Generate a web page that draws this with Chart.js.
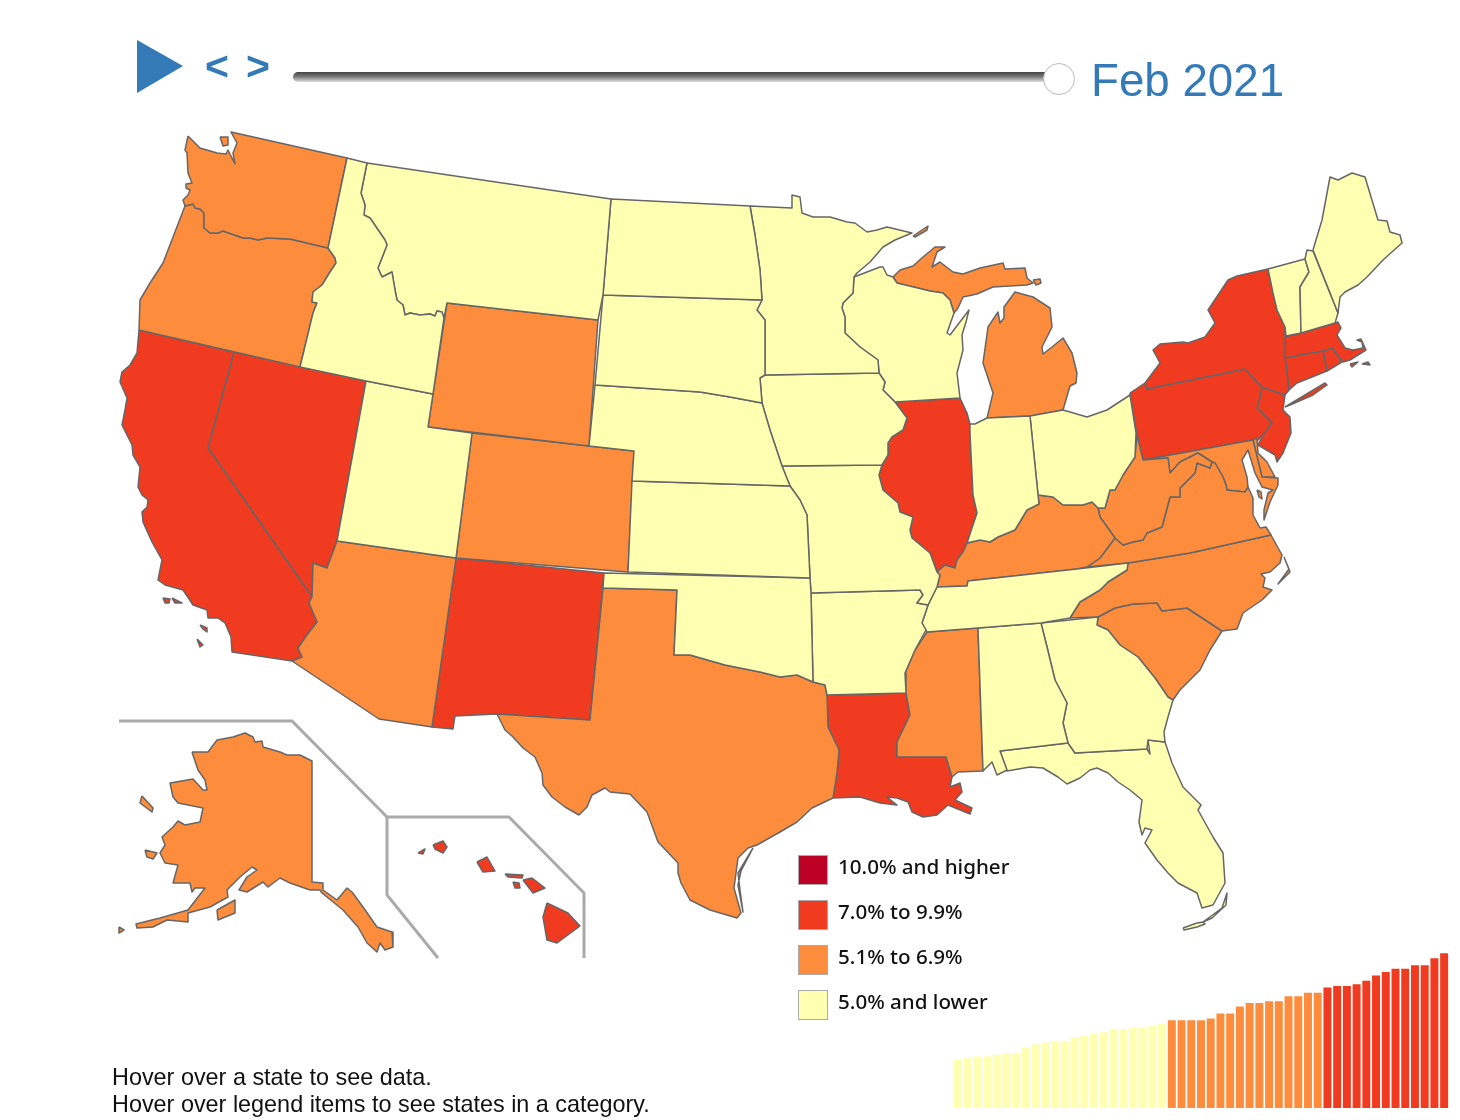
<!DOCTYPE html>
<html>
<head>
<meta charset="utf-8">
<title>Unemployment by state, Feb 2021</title>
<script src="https://cdn.jsdelivr.net/npm/chart.js@4/dist/chart.umd.min.js"></script>
<style>
    html, body { margin: 0; padding: 0; background: #fff; }
    #page { position: relative; width: 1460px; height: 1120px; overflow: hidden; }
    #mapChart { position: absolute; left: 0; top: 0; }
    #barBox { position: absolute; left: 953px; top: 936px; width: 496px; height: 172px; }
    #play { position: absolute; left: 137px; top: 40px; width: 46px; height: 53px; background: #337ab7; clip-path: polygon(0 0, 100% 49%, 0 100%); }
    .arrow { position: absolute; top: 41px; color: #337ab7; font: bold 41px "Liberation Sans", sans-serif; line-height: 50px; }
    #track { position: absolute; left: 293px; top: 72px; width: 760px; height: 10px; border-radius: 5px; background: linear-gradient(#444, #777 45%, #ddd); }
    #knob { position: absolute; left: 1043px; top: 63px; width: 30px; height: 30px; border-radius: 50%; background: #fff; border: 1px solid #bbb; }
    #date { position: absolute; left: 1091px; top: 51px; color: #337ab7; font: 45.7px "Liberation Sans", sans-serif; line-height: 60px; white-space: nowrap; }
    .swatch { position: absolute; left: 798px; width: 28px; height: 28px; border: 1.5px solid #aaa; }
    .legendText { position: absolute; left: 838px; color: #111; font: 500 20.6px "Noto Sans", sans-serif; line-height: 30px; white-space: nowrap; }
    #hint { position: absolute; left: 112px; top: 1064px; color: #111; font: 23.4px/27px "Liberation Sans", sans-serif; white-space: nowrap; }
</style>
</head>
<body>
<div id="page">
    <canvas id="mapChart" width="1460" height="1120"></canvas>
    <div id="play"></div>
    <div class="arrow" style="left:205px">&lt;</div>
    <div class="arrow" style="left:246px">&gt;</div>
    <div id="track"></div>
    <div id="knob"></div>
    <div id="date"></div>
    <div id="legend"></div>
    <div id="hint"></div>
    <div id="barBox"><canvas id="barChart"></canvas></div>
</div>
<script>
const currentMonth = "Feb 2021";
const hintLines = ["Hover over a state to see data.", "Hover over legend items to see states in a category."];

const legendLabels = ["10.0% and higher", "7.0% to 9.9%", "5.1% to 6.9%", "5.0% and lower"];
const legendColors = ["#bd0026", "#f03b20", "#fd8d3c", "#ffffb2"];

// states in each legend bin
const redStates = ["CA", "NV", "NM", "LA", "IL", "NY", "PA", "NJ", "CT", "MA", "RI", "HI"];
const orangeStates = ["WA", "OR", "WY", "CO", "AZ", "TX", "AK", "MI", "MS", "KY", "WV", "VA", "NC", "SC", "MD", "DE"];
const yellowStates = ["ID", "MT", "ND", "SD", "NE", "KS", "OK", "MN", "IA", "MO", "AR", "WI", "IN", "OH", "TN", "AL", "GA", "FL", "UT", "ME", "NH", "VT"];

// sorted state rates, bottom right strip (%)
const sortedRates = [2.8, 2.9, 3.0, 3.0, 3.1, 3.2, 3.2, 3.5, 3.7, 3.8, 3.9, 3.9, 4.1, 4.2, 4.3, 4.4, 4.6, 4.6, 4.7, 4.7, 4.8, 4.9,
    5.1, 5.1, 5.1, 5.1, 5.2, 5.5, 5.5, 5.9, 6.1, 6.1, 6.2, 6.2, 6.5, 6.5, 6.7, 6.7,
    7.0, 7.1, 7.1, 7.2, 7.4, 7.7, 7.9, 8.1, 8.1, 8.3, 8.3, 8.7, 9.0];

// state outlines in map units
const WA = [[188,136],[193,141],[200,148],[217,153],[226,154],[228,150],[235,164],[233,153],[237,143],[231,132],[347,158],[328,248],[290,239],[267,238],[258,240],[250,238],[243,238],[223,231],[218,233],[210,233],[204,228],[204,213],[200,209],[195,208],[193,204],[185,206],[183,200],[188,195],[190,190],[186,188],[186,184],[192,183],[188,173],[187,153],[185,150]];
const WA2 = [[220,137],[228,137],[228,145],[223,146]];
const OR = [[185,206],[193,204],[195,208],[200,209],[204,213],[204,228],[210,233],[218,233],[223,231],[243,238],[250,238],[258,240],[267,238],[290,239],[328,248],[335,258],[336,263],[330,272],[322,285],[313,292],[312,302],[317,303],[313,313],[300,367],[139,330],[140,300],[150,283],[163,263]];
const CA = [[139,330],[234,352],[208,448],[312,597],[309,603],[317,622],[307,635],[298,648],[302,657],[292,661],[232,652],[231,637],[225,623],[218,618],[208,618],[207,610],[193,605],[183,590],[165,585],[158,580],[162,560],[152,542],[143,522],[142,512],[147,507],[148,500],[142,495],[138,487],[140,467],[133,455],[132,445],[122,425],[125,410],[127,398],[120,382],[122,372],[130,365],[137,353]];
const CA2 = [[163,598],[170,599],[169,603],[165,603]];
const CA3 = [[172,598],[182,603],[175,603]];
const CA4 = [[200,625],[207,628],[207,632],[203,629]];
const CA5 = [[197,639],[203,645],[200,647]];
const NV = [[234,352],[366,381],[337,541],[327,568],[313,563],[312,597],[208,448]];
const ID = [[347,158],[367,163],[361,193],[365,205],[364,215],[370,218],[385,240],[387,245],[378,268],[382,277],[392,272],[395,290],[397,300],[403,305],[405,315],[410,313],[420,315],[430,314],[435,316],[437,311],[442,312],[444,318],[433,394],[366,381],[300,367],[313,313],[317,303],[312,302],[313,292],[322,285],[330,272],[336,263],[335,258],[328,248]];
const MT = [[367,163],[611,199],[603,295],[598,320],[447,303],[444,318],[442,312],[437,311],[435,316],[430,314],[420,315],[410,313],[405,315],[403,305],[397,300],[395,290],[392,272],[382,277],[378,268],[387,245],[385,240],[370,218],[364,215],[365,205],[361,193]];
const WY = [[447,303],[598,320],[589,446],[428,427]];
const UT = [[366,381],[433,394],[428,427],[472,433],[456,558],[337,541]];
const CO = [[472,433],[589,446],[634,451],[628,572],[456,558]];
const AZ = [[337,541],[456,558],[432,727],[379,719],[292,661],[302,657],[298,648],[307,635],[317,622],[309,603],[312,597],[313,563],[327,568]];
const NM = [[456,558],[604,573],[590,720],[497,714],[455,716],[453,729],[432,727]];
const ND = [[611,199],[750,206],[755,235],[760,270],[762,300],[603,295]];
const SD = [[603,295],[762,300],[757,310],[765,320],[765,375],[760,378],[762,403],[730,397],[700,392],[595,385]];
const NE = [[595,385],[700,392],[730,397],[762,403],[770,430],[782,466],[790,486],[632,481],[634,451],[589,446]];
const KS = [[632,481],[790,486],[800,500],[807,515],[810,578],[628,572]];
const OK = [[604,573],[810,578],[811,593],[813,682],[797,675],[780,677],[760,672],[725,665],[690,655],[674,655],[677,590],[603,588]];
const TX = [[603,588],[677,590],[674,655],[690,655],[725,665],[760,672],[780,677],[797,675],[813,682],[825,685],[827,695],[828,727],[839,750],[837,773],[833,798],[812,808],[797,822],[780,832],[757,845],[748,848],[738,858],[734,888],[741,913],[737,918],[710,910],[690,900],[681,883],[678,873],[678,863],[658,842],[647,812],[630,794],[610,792],[605,788],[592,795],[587,807],[579,815],[565,807],[552,797],[543,785],[542,773],[535,757],[523,748],[513,737],[505,730],[497,714],[590,720]];
const TX2 = [[753,848],[741,871],[738,885],[743,912],[740,890],[738,873]];
const MN = [[750,206],[792,208],[792,195],[800,197],[802,213],[813,217],[830,217],[847,222],[855,223],[867,232],[877,230],[887,227],[912,233],[895,240],[883,247],[870,262],[857,273],[854,277],[853,293],[843,303],[842,308],[845,317],[845,333],[860,347],[878,360],[879,373],[765,375],[765,320],[757,310],[762,300],[760,270],[755,235]];
const IA = [[765,375],[879,373],[885,382],[883,390],[895,402],[907,418],[903,430],[892,437],[888,443],[888,455],[882,465],[782,466],[770,430],[762,403],[760,378]];
const MO = [[782,466],[882,465],[879,475],[883,490],[898,503],[900,512],[913,517],[910,530],[912,538],[930,553],[937,572],[940,575],[937,587],[928,605],[917,603],[923,595],[920,590],[811,593],[810,578],[807,515],[800,500],[790,486]];
const AR = [[811,593],[920,590],[923,595],[917,603],[928,605],[922,623],[926,630],[915,650],[905,673],[906,693],[827,695],[825,685],[813,682]];
const LA = [[827,695],[906,693],[910,715],[897,742],[897,757],[946,757],[952,777],[950,787],[960,783],[962,792],[955,800],[972,808],[970,814],[948,805],[937,815],[923,817],[912,812],[908,802],[897,798],[887,797],[897,805],[880,803],[860,797],[833,798],[837,773],[839,750],[828,727]];
const WI = [[854,277],[880,267],[883,267],[887,275],[893,277],[897,283],[930,291],[943,293],[950,300],[954,313],[947,333],[950,335],[969,310],[966,322],[962,335],[963,350],[957,373],[960,398],[895,402],[883,390],[885,382],[879,373],[878,360],[860,347],[845,333],[845,317],[842,308],[843,303],[853,293]];
const MI = [[893,277],[900,270],[913,266],[923,257],[935,247],[945,247],[937,252],[932,267],[940,262],[953,272],[963,274],[980,268],[1003,263],[1005,269],[1025,268],[1027,278],[1033,283],[1027,285],[993,287],[977,294],[963,297],[958,308],[954,313],[950,300],[943,293],[930,291],[897,283]];
const MI2 = [[987,418],[993,393],[983,363],[988,327],[998,312],[1000,323],[1004,318],[1004,307],[1015,292],[1033,297],[1050,308],[1052,327],[1042,347],[1043,354],[1052,347],[1063,338],[1072,353],[1077,373],[1076,383],[1070,386],[1063,410],[1030,416]];
const MI3 = [[913,236],[928,226],[927,230],[915,237]];
const MI4 = [[1033,280],[1040,279],[1041,283],[1036,285]];
const IL = [[895,402],[960,398],[967,413],[970,424],[970,433],[973,495],[977,513],[967,543],[963,552],[957,560],[955,568],[945,565],[937,572],[930,553],[912,538],[910,530],[913,517],[900,512],[898,503],[883,490],[879,475],[882,465],[888,455],[888,443],[892,437],[903,430],[907,418]];
const IN = [[970,424],[975,424],[987,418],[1030,416],[1038,495],[1039,504],[1027,510],[1015,530],[998,537],[990,542],[980,540],[967,543],[977,513],[973,495],[970,433]];
const OH = [[1030,416],[1063,410],[1070,412],[1087,417],[1107,410],[1130,395],[1136,433],[1135,457],[1123,475],[1115,490],[1110,490],[1105,508],[1098,508],[1092,502],[1083,505],[1063,505],[1053,497],[1038,495]];
const KY = [[940,575],[937,587],[967,586],[968,581],[1077,569],[1087,567],[1100,558],[1115,538],[1100,517],[1098,508],[1092,502],[1083,505],[1063,505],[1053,497],[1038,495],[1039,504],[1027,510],[1015,530],[998,537],[990,542],[980,540],[967,543],[963,552],[957,560],[955,568],[945,565],[937,572]];
const TN = [[937,587],[967,586],[968,581],[1077,569],[1128,563],[1127,570],[1108,582],[1100,590],[1080,602],[1070,618],[1041,623],[978,628],[927,632],[922,623],[928,605]];
const MS = [[927,632],[978,628],[983,771],[958,772],[952,777],[946,757],[897,757],[897,742],[910,715],[906,693],[905,673],[915,650]];
const AL = [[978,628],[1041,623],[1047,647],[1055,680],[1067,703],[1063,723],[1068,743],[1000,751],[1007,770],[997,775],[992,762],[983,771]];
const GA = [[1041,623],[1098,617],[1097,625],[1108,630],[1120,645],[1138,657],[1155,678],[1168,697],[1173,700],[1168,717],[1164,732],[1165,742],[1148,740],[1147,749],[1075,753],[1068,743],[1063,723],[1067,703],[1055,680],[1047,647]];
const FL = [[1000,751],[1068,743],[1075,753],[1147,749],[1150,754],[1148,740],[1165,742],[1172,763],[1183,787],[1201,805],[1198,810],[1213,837],[1223,853],[1225,883],[1213,905],[1202,908],[1197,893],[1178,883],[1168,873],[1157,860],[1145,843],[1152,830],[1145,828],[1142,835],[1139,822],[1142,800],[1130,790],[1118,782],[1108,773],[1097,768],[1090,770],[1080,778],[1067,784],[1058,777],[1043,768],[1030,767],[1007,771]];
const FL2 = [[1183,928],[1197,923],[1203,922],[1205,924],[1197,927],[1184,930]];
const FL3 = [[1203,922],[1222,908],[1227,893],[1226,905],[1212,918]];
const SC = [[1098,617],[1115,608],[1133,604],[1157,603],[1162,611],[1187,608],[1222,631],[1210,650],[1200,670],[1180,690],[1173,700],[1168,697],[1155,678],[1138,657],[1120,645],[1108,630],[1097,625]];
const NC = [[1271,535],[1282,555],[1280,563],[1270,572],[1261,574],[1265,578],[1263,587],[1272,590],[1262,600],[1243,613],[1237,629],[1222,631],[1187,608],[1162,611],[1157,603],[1133,604],[1115,608],[1098,617],[1070,618],[1080,602],[1100,590],[1108,582],[1127,570],[1128,563],[1190,553]];
const NC2 = [[1284,557],[1290,572],[1278,584],[1289,569]];
const VA = [[1115,538],[1123,545],[1133,542],[1143,540],[1147,533],[1162,527],[1170,497],[1180,497],[1180,488],[1195,473],[1197,463],[1210,468],[1212,462],[1215,463],[1223,477],[1226,485],[1227,490],[1245,492],[1248,487],[1253,498],[1253,515],[1260,528],[1266,527],[1271,535],[1190,553],[1128,563],[1087,567],[1100,558]];
const WV = [[1137,435],[1143,460],[1168,458],[1170,473],[1180,462],[1198,453],[1212,462],[1210,468],[1197,463],[1195,473],[1180,488],[1180,497],[1170,497],[1162,527],[1147,533],[1143,540],[1133,542],[1123,545],[1115,538],[1100,517],[1098,508],[1105,508],[1110,490],[1115,490],[1123,475],[1135,457]];
const MD = [[1143,460],[1253,440],[1262,477],[1278,478],[1278,485],[1270,502],[1264,520],[1264,510],[1268,493],[1273,490],[1262,487],[1255,473],[1248,450],[1242,460],[1247,477],[1248,487],[1245,492],[1227,490],[1226,485],[1223,477],[1215,463],[1212,462],[1198,453],[1180,462],[1170,473],[1168,458]];
const MD2 = [[1257,490],[1261,492],[1262,499],[1259,497]];
const DE = [[1253,440],[1257,438],[1258,453],[1267,462],[1275,477],[1262,477]];
const NJ = [[1262,387],[1285,395],[1283,410],[1290,417],[1291,433],[1283,453],[1277,462],[1275,455],[1258,445],[1263,435],[1272,423],[1257,408],[1260,397]];
const PA = [[1130,393],[1145,383],[1147,389],[1245,369],[1255,380],[1262,387],[1260,397],[1257,408],[1272,423],[1263,435],[1258,440],[1253,440],[1143,460],[1137,435]];
const NY = [[1145,383],[1160,363],[1153,350],[1160,344],[1183,342],[1188,343],[1205,337],[1215,323],[1208,310],[1228,280],[1237,276],[1268,269],[1273,293],[1277,310],[1285,327],[1285,357],[1289,390],[1285,395],[1262,387],[1255,380],[1245,369],[1147,389]];
const NY2 = [[1285,407],[1325,383],[1327,385],[1313,395],[1290,405]];
const VT = [[1268,269],[1305,259],[1309,272],[1300,287],[1301,333],[1286,336],[1285,327],[1277,310],[1273,293]];
const NH = [[1305,259],[1307,250],[1313,251],[1338,313],[1335,323],[1301,333],[1300,287],[1309,272]];
const ME = [[1313,250],[1322,220],[1330,177],[1338,180],[1352,173],[1365,177],[1378,220],[1387,221],[1390,232],[1400,235],[1402,243],[1383,260],[1367,277],[1358,285],[1345,292],[1340,297],[1338,313]];
const MA = [[1285,337],[1301,333],[1335,323],[1338,322],[1341,328],[1337,335],[1345,348],[1353,350],[1363,348],[1362,342],[1357,340],[1361,339],[1366,350],[1350,360],[1343,362],[1332,348],[1323,351],[1285,358]];
const MA2 = [[1350,364],[1358,362],[1352,367]];
const MA3 = [[1362,364],[1368,362],[1370,365]];
const CT = [[1285,358],[1323,351],[1327,371],[1297,383],[1289,390],[1287,373]];
const RI = [[1323,351],[1332,348],[1342,362],[1327,371]];
const AK = [[192,752],[208,752],[217,740],[233,737],[245,733],[253,737],[255,742],[262,741],[263,747],[280,752],[287,755],[300,755],[312,761],[312,882],[323,883],[323,890],[337,900],[347,888],[352,892],[363,907],[377,927],[392,932],[393,947],[385,950],[380,943],[377,952],[367,943],[358,927],[343,910],[322,893],[320,890],[310,890],[290,883],[280,878],[268,887],[263,882],[247,892],[239,890],[247,877],[257,870],[252,867],[240,877],[227,890],[228,897],[210,907],[188,913],[188,922],[167,920],[153,927],[137,928],[136,924],[160,918],[188,910],[205,888],[195,888],[192,892],[190,883],[173,883],[178,865],[165,863],[160,853],[165,845],[162,837],[173,827],[178,821],[185,825],[200,822],[203,808],[178,803],[173,797],[170,783],[193,779],[203,790],[207,790],[205,780],[198,770]];
const AK2 = [[142,796],[153,808],[152,812],[140,803]];
const AK3 = [[145,850],[157,853],[153,859],[147,857]];
const AK4 = [[217,910],[235,900],[235,913],[218,920]];
const AK5 = [[119,927],[124,930],[119,933]];
const HI = [[547,903],[568,913],[580,926],[557,943],[547,940],[543,917]];
const HI2 = [[523,880],[532,878],[545,888],[533,893]];
const HI3 = [[513,882],[519,883],[520,888],[515,888]];
const HI4 = [[505,874],[523,875],[522,878],[508,877]];
const HI5 = [[477,862],[487,857],[495,871],[483,872]];
const HI6 = [[433,845],[443,841],[447,847],[443,853],[435,849]];
const HI7 = [[418,853],[425,849],[423,854]];

const stateParts = {
    WA: [WA, WA2], OR: [OR], CA: [CA, CA2, CA3, CA4, CA5], NV: [NV], ID: [ID], MT: [MT], WY: [WY], UT: [UT], CO: [CO], AZ: [AZ], NM: [NM],
    ND: [ND], SD: [SD], NE: [NE], KS: [KS], OK: [OK], TX: [TX, TX2], MN: [MN], IA: [IA], MO: [MO], AR: [AR], LA: [LA], WI: [WI],
    MI: [MI, MI2, MI3, MI4], IL: [IL], IN: [IN], OH: [OH], KY: [KY], TN: [TN], MS: [MS], AL: [AL], GA: [GA], FL: [FL, FL2, FL3],
    SC: [SC], NC: [NC, NC2], VA: [VA], WV: [WV], MD: [MD, MD2], DE: [DE], NJ: [NJ], PA: [PA], NY: [NY, NY2], VT: [VT], NH: [NH], ME: [ME],
    MA: [MA, MA2, MA3], CT: [CT], RI: [RI], AK: [AK, AK2, AK3, AK4, AK5], HI: [HI, HI2, HI3, HI4, HI5, HI6, HI7]
};

const insetAlaska = [[119,721],[292,721],[387,817]];
const insetHawaii = [[438,958],[387,895],[387,817],[509,817],[584,893],[584,958]];
const dcPoint = [[1230,474]];

function toPoints(list) {
    return list.map(p => ({ x: p[0], y: p[1] }));
}

function stateSets(names, color) {
    const sets = [];
    names.forEach(n => {
        stateParts[n].forEach(part => {
            sets.push({
                label: n,
                data: toPoints(part.concat([part[0]])),
                showLine: true,
                fill: 'shape',
                backgroundColor: color,
                borderColor: '#666',
                borderWidth: 1.5,
                borderJoinStyle: 'round',
                pointRadius: 0,
                tension: 0
            });
        });
    });
    return sets;
}

function insetSet(list) {
    return { data: toPoints(list), showLine: true, fill: false, borderColor: '#aaa', borderWidth: 3, pointRadius: 0, tension: 0 };
}

function barColor(v) {
    if (v >= 10) return legendColors[0];
    if (v >= 7) return legendColors[1];
    if (v > 5) return legendColors[2];
    return legendColors[3];
}

function init() {
    document.getElementById('date').innerText = currentMonth;
    document.getElementById('hint').innerHTML = hintLines.join('<br>');
    document.getElementById('legend').innerHTML = legendLabels.map((l, i) => `
        <div class="swatch" style="top:${855 + i * 45}px; background:${legendColors[i]}"></div>
        <div class="legendText" style="top:${851 + i * 45}px">${l}</div>
    `).join('');

    const sets = [].concat(
        stateSets(yellowStates, legendColors[3]),
        stateSets(orangeStates, legendColors[2]),
        stateSets(redStates, legendColors[1]),
        [insetSet(insetAlaska), insetSet(insetHawaii)],
        [{ label: 'DC', data: toPoints(dcPoint), showLine: false, pointRadius: 8.5, pointBackgroundColor: legendColors[1], pointBorderColor: '#c8504a', pointBorderWidth: 1.5 }]
    );

    new Chart(document.getElementById('mapChart'), {
        type: 'scatter',
        data: { datasets: sets },
        options: {
            responsive: false,
            animation: false,
            layout: { padding: 0, autoPadding: false },
            events: [],
            plugins: { legend: { display: false }, tooltip: { enabled: false } },
            scales: {
                x: { type: 'linear', min: 0, max: 1460, display: false },
                y: { type: 'linear', min: 0, max: 1120, reverse: true, display: false }
            }
        }
    });

    new Chart(document.getElementById('barChart'), {
        type: 'bar',
        data: {
            labels: sortedRates.map((v, i) => i + 1),
            datasets: [{ data: sortedRates, backgroundColor: sortedRates.map(barColor), categoryPercentage: 1, barPercentage: 0.82 }]
        },
        options: {
            responsive: true,
            maintainAspectRatio: false,
            animation: false,
            layout: { padding: 0, autoPadding: false },
            events: [],
            plugins: { legend: { display: false }, tooltip: { enabled: false } },
            scales: {
                x: { display: false },
                y: { min: 0, max: 10, display: false }
            }
        }
    });
}

init();
</script>
</body>
</html>
